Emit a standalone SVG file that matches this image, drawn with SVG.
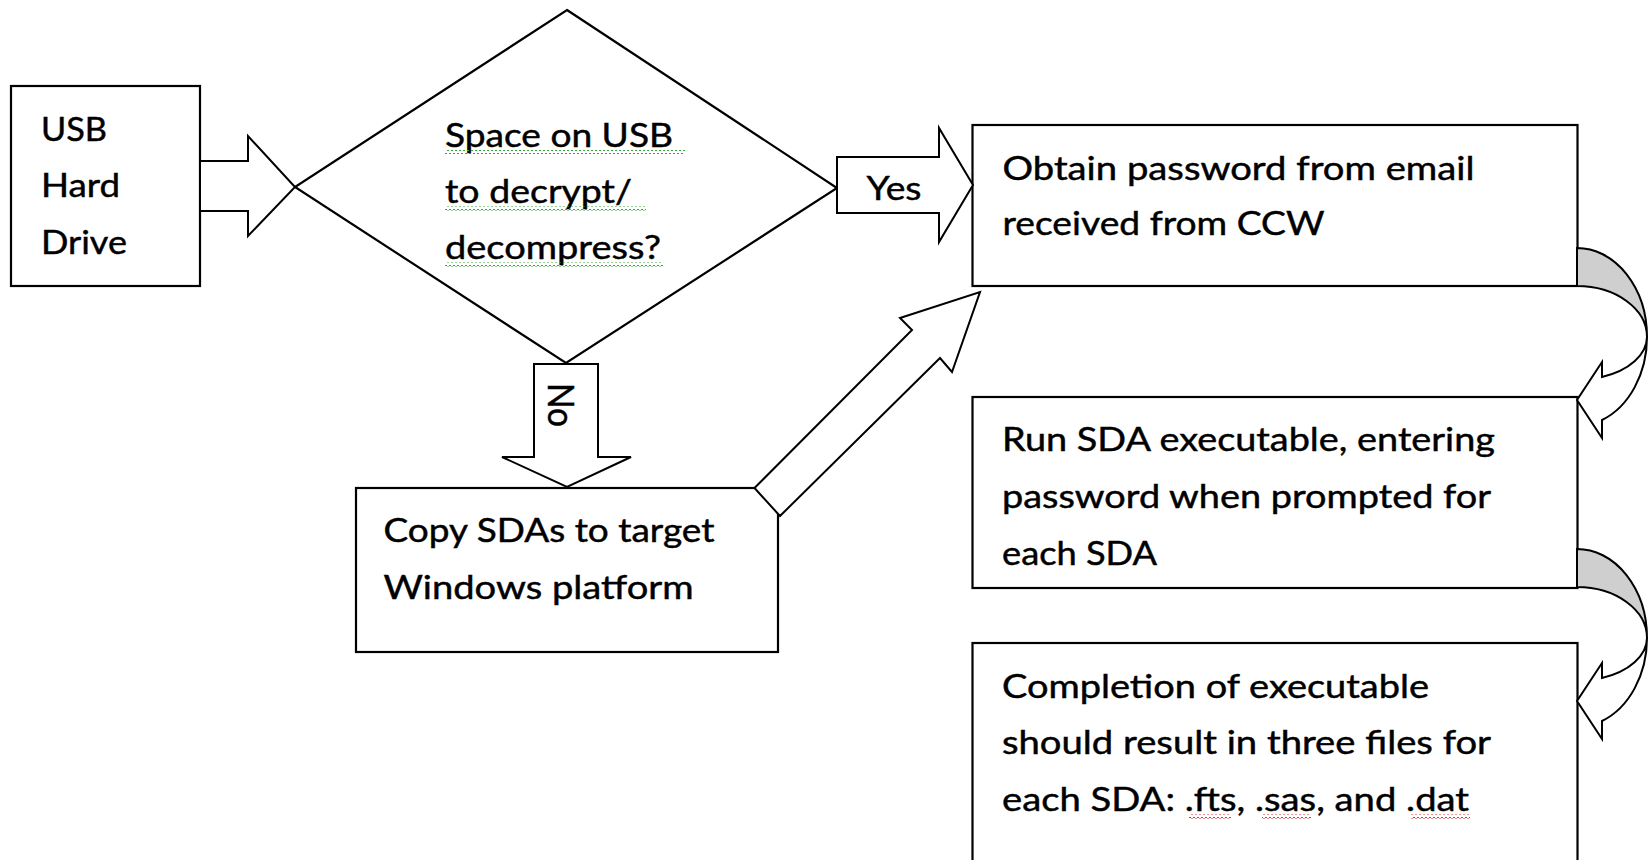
<svg xmlns="http://www.w3.org/2000/svg" width="1652" height="860" viewBox="0 0 1652 860">
<defs>
<style>
.box{fill:#fff;stroke:#000;stroke-width:2.2}
.arr{fill:#fff;stroke:#000;stroke-width:2;stroke-linejoin:miter}
.gray{fill:#cfcfcf;stroke:#000;stroke-width:2}
.t{font-family:Lato,"Open Sans","Liberation Sans",sans-serif;font-size:32px;fill:#000;stroke:#000;stroke-width:0.45}
</style>
<pattern id="sqg" width="4" height="4" patternUnits="userSpaceOnUse">
<path d="M0,3 L2,1 L4,3" fill="none" stroke="#3aa03a" stroke-width="1"/>
</pattern>
<pattern id="sqr" width="4" height="4" patternUnits="userSpaceOnUse">
<path d="M0,3 L2,1 L4,3" fill="none" stroke="#e03030" stroke-width="1"/>
</pattern>
</defs>
<rect width="1652" height="860" fill="#fff"/>

<g id="usb">
<rect class="box" x="11" y="86" width="189" height="200"/>
<text class="t" x="41" y="140.5" textLength="66" lengthAdjust="spacingAndGlyphs">USB</text>
<text class="t" x="41" y="197.2" textLength="79" lengthAdjust="spacingAndGlyphs">Hard</text>
<text class="t" x="41" y="253.8" textLength="86" lengthAdjust="spacingAndGlyphs">Drive</text>
</g>

<g id="decision">
<polygon class="box" points="567,10 837,188 566,363 295,187"/>
<text class="t" x="445" y="146.7" textLength="228" lengthAdjust="spacingAndGlyphs">Space on USB</text>
<text class="t" x="445" y="203.3" textLength="187" lengthAdjust="spacingAndGlyphs">to decrypt/</text>
<text class="t" x="445" y="259.3" textLength="216" lengthAdjust="spacingAndGlyphs">decompress?</text>
<rect x="445" y="150" width="240" height="4" fill="url(#sqg)"/>
<rect x="445" y="206.5" width="201" height="4" fill="url(#sqg)"/>
<rect x="445" y="262.5" width="218" height="4" fill="url(#sqg)"/>
</g>

<g id="obtain">
<rect class="box" x="972.5" y="125" width="605" height="161"/>
<text class="t" x="1002.5" y="179.8" textLength="472" lengthAdjust="spacingAndGlyphs">Obtain password from email</text>
<text class="t" x="1002.5" y="235.2" textLength="322" lengthAdjust="spacingAndGlyphs">received from CCW</text>
</g>

<g id="run">
<rect class="box" x="972.5" y="397" width="605" height="191"/>
<text class="t" x="1002" y="451" textLength="493" lengthAdjust="spacingAndGlyphs">Run SDA executable, entering</text>
<text class="t" x="1002" y="508" textLength="489" lengthAdjust="spacingAndGlyphs">password when prompted for</text>
<text class="t" x="1002" y="565" textLength="155" lengthAdjust="spacingAndGlyphs">each SDA</text>
</g>

<g id="completion">
<rect class="box" x="972.5" y="643" width="605" height="260"/>
<text class="t" x="1002" y="697.5" textLength="427" lengthAdjust="spacingAndGlyphs">Completion of executable</text>
<text class="t" x="1002" y="754" textLength="489" lengthAdjust="spacingAndGlyphs">should result in three files for</text>
<text class="t" x="1002" y="810.5" textLength="467" lengthAdjust="spacingAndGlyphs">each SDA: .fts, .sas, and .dat</text>
<rect x="1189" y="814.5" width="42" height="4" fill="url(#sqr)"/>
<rect x="1262" y="814.5" width="49" height="4" fill="url(#sqr)"/>
<rect x="1411" y="814.5" width="59" height="4" fill="url(#sqr)"/>
</g>

<g id="copy">
<rect class="box" x="356" y="488" width="422" height="164"/>
<text class="t" x="383.5" y="541.8" textLength="331" lengthAdjust="spacingAndGlyphs">Copy SDAs to target</text>
<text class="t" x="383.5" y="598.5" textLength="310" lengthAdjust="spacingAndGlyphs">Windows platform</text>
</g>

<g id="connectors">
<polygon class="arr" points="200,161 248,161 248,136 295,187 248,236 248,211 200,211"/>
<polygon class="arr" points="837,157 939,157 939,128 973,185 939,242 939,213 837,213"/>
<text class="t" x="866.5" y="200" textLength="55" lengthAdjust="spacingAndGlyphs">Yes</text>
<polygon class="arr" points="534,364 598,364 598,457 631,457 567,487 502,457 534,457"/>
<text class="t" transform="translate(548,383) scale(1.12,1) rotate(90)" x="0" y="0" textLength="44" lengthAdjust="spacingAndGlyphs">No</text>
<polygon class="arr" points="754.5,488 912,330 900,318 980,292 952,372 940,358 780,516"/>
<g id="curve1">
<path class="gray" d="M1577,248 A70,89 0 0 1 1647,337 A70,51 0 0 0 1577,286 Z"/>
<path class="arr" d="M1647,337 A70,89 0 0 1 1602,420 L1602,438 L1577,400 L1602,362 L1602,377 A70,43 0 0 0 1647,337 Z"/>
</g>
<g id="curve2" transform="translate(0,301)">
<path class="gray" d="M1577,248 A70,89 0 0 1 1647,337 A70,51 0 0 0 1577,286 Z"/>
<path class="arr" d="M1647,337 A70,89 0 0 1 1602,420 L1602,438 L1577,400 L1602,362 L1602,377 A70,43 0 0 0 1647,337 Z"/>
</g>
</g>
</svg>
